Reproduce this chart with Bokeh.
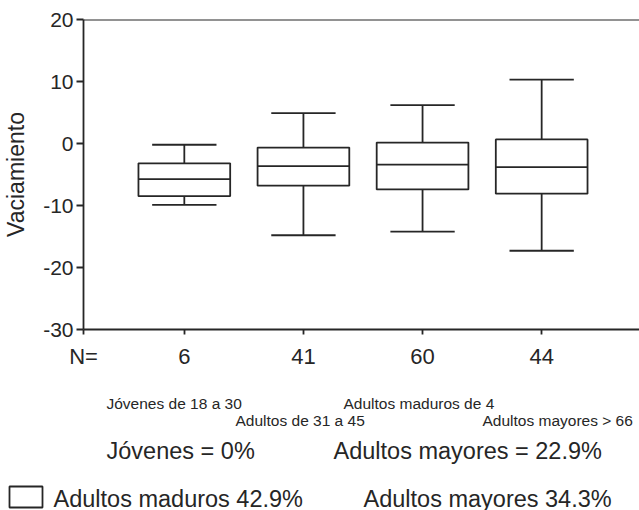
import numpy as np
from bokeh.plotting import figure
from bokeh.models import Range1d, FixedTicker, Span
from bokeh.embed import file_html
from bokeh.resources import INLINE
from bokeh.core.properties import value

# ---------------- data ----------------
n_labels = ["6", "41", "60", "44"]
whisker_low = [-9.9, -14.8, -14.2, -17.3]
q1 = [-8.5, -6.8, -7.4, -8.1]
median = [-5.75, -3.65, -3.4, -3.8]
q3 = [-3.2, -0.65, 0.15, 0.65]
whisker_high = [-0.2, 4.9, 6.2, 10.3]
y_ticks = [-30, -20, -10, 0, 10, 20]
y_label = "Vaciamiento"
n_prefix = "N="

group_notes_row1 = ["Jóvenes de 18 a 30", "Adultos maduros de 4"]
group_notes_row2 = ["Adultos de 31 a 45", "Adultos mayores > 66"]
summary_row = ["Jóvenes = 0%", "Adultos mayores = 22.9%"]
legend_row = ["Adultos maduros 42.9%", "Adultos mayores 34.3%"]

# ---------------- style ----------------
FONT = "Liberation Sans"
INK = "#262626"
LW = 1.8

x = np.arange(1, len(n_labels) + 1, dtype=float)
BOX_W = 0.77
CAP_W = 0.54

# frame geometry (px): left 82, right 639, top 19, bottom 329
PX_PER_X = 119.33
X_LO = 1 - 101 / PX_PER_X
X_HI = X_LO + 557 / PX_PER_X

p = figure(width=639, height=380, output_backend="svg", toolbar_location=None,
           x_range=Range1d(X_LO, X_HI), y_range=Range1d(-30, 20),
           min_border_left=82, min_border_right=0, min_border_top=19,
           min_border_bottom=51)
p.outline_line_color = None
p.xgrid.visible = False
p.ygrid.visible = False

# whiskers
p.segment(x, q3, x, whisker_high, line_color=INK, line_width=LW)
p.segment(x, q1, x, whisker_low, line_color=INK, line_width=LW)
p.segment(x - CAP_W / 2, whisker_high, x + CAP_W / 2, whisker_high, line_color=INK, line_width=LW)
p.segment(x - CAP_W / 2, whisker_low, x + CAP_W / 2, whisker_low, line_color=INK, line_width=LW)
# boxes
p.vbar(x=x, width=BOX_W, bottom=q1, top=q3, fill_color="white", line_color=INK, line_width=LW)
p.segment(x - BOX_W / 2, median, x + BOX_W / 2, median, line_color=INK, line_width=LW)

# top border
p.add_layout(Span(location=20, dimension="width", line_color=INK, line_width=LW))

# x axis: "N=" sits on a tick at the frame's left edge (hidden by the y axis)
xa = p.xaxis[0]
xa.ticker = FixedTicker(ticks=[X_LO] + list(x))
xa.major_label_overrides = {X_LO: n_prefix, **{float(v): lab for v, lab in zip(x, n_labels)}}
xa.major_tick_out = 5
xa.major_tick_in = 0
xa.minor_tick_line_color = None
xa.axis_line_color = INK
xa.axis_line_width = LW
xa.major_tick_line_color = INK
xa.major_tick_line_width = LW
xa.major_label_text_font = FONT
xa.major_label_text_font_size = "22px"
xa.major_label_text_color = INK
xa.major_label_standoff = 9

ya = p.yaxis[0]
ya.ticker = FixedTicker(ticks=y_ticks)
ya.major_label_overrides = {t: str(t) for t in y_ticks}
ya.major_tick_out = 7
ya.major_tick_in = 0
ya.minor_tick_line_color = None
ya.axis_line_color = INK
ya.axis_line_width = LW
ya.major_tick_line_color = INK
ya.major_tick_line_width = LW
ya.major_label_text_font = FONT
ya.major_label_text_font_size = "21px"
ya.major_label_text_color = INK
ya.major_label_standoff = 3
ya.axis_label = y_label
ya.axis_label_text_font = FONT
ya.axis_label_text_font_size = "23px"
ya.axis_label_text_font_style = "normal"
ya.axis_label_text_color = INK
ya.axis_label_standoff = 11

# ---------------- bottom text panel (separate root, page px coords) ----------------
q = figure(width=639, height=130, output_backend="svg", toolbar_location=None,
           x_range=Range1d(0, 639), y_range=Range1d(510, 380),
           x_axis_type=None, y_axis_type=None, min_border=0)
q.outline_line_color = None
q.xgrid.visible = False
q.ygrid.visible = False

small = dict(text_font=value(FONT), text_font_size=value("15.5px"), text_color=INK,
             text_align="left", text_baseline="alphabetic")
big = dict(text_font=value(FONT), text_font_size=value("23.5px"), text_color=INK,
           text_align="left", text_baseline="alphabetic")

q.text(x=[106, 343], y=[403, 403], text=group_notes_row1, **small)
q.text(x=[235, 482], y=[420, 420], text=group_notes_row2, **small)
q.text(x=[106, 333], y=[450, 450], text=summary_row, **big)
q.text(x=[53, 363], y=[498, 498], text=legend_row, **big)
q.quad(left=[9], right=[42], top=[486], bottom=[507], fill_color="white",
       line_color=INK, line_width=LW)

open("out.html", "w").write(file_html([p, q], INLINE))
